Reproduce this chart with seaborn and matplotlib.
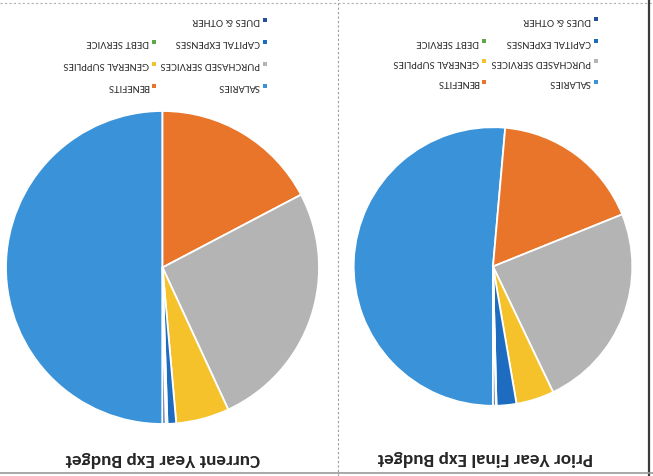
import matplotlib
matplotlib.use("Agg")
import matplotlib.pyplot as plt
from matplotlib.lines import Line2D
from matplotlib.patches import Rectangle
import seaborn as sns

# ---- data -------------------------------------------------------------
categories = ["SALARIES", "BENEFITS", "PURCHASED SERVICES", "GENERAL SUPPLIES",
              "CAPITAL EXPENSES", "DEBT SERVICE", "DUES & OTHER"]
current_year = [50.0, 17.3, 25.8, 5.5, 0.9, 0.2, 0.3]
prior_year = [51.4, 17.5, 24.0, 4.4, 2.3, 0.1, 0.3]
titles = ["Current Year Exp Budget", "Prior Year Final Exp Budget"]

sns.set_theme(style="white")
plt.rcParams["font.family"] = ["Carlito", "DejaVu Sans"]

palette = sns.color_palette(["#3A92D8", "#E8752A", "#B4B4B4", "#F5C22B",
                             "#1E6CC0", "#5FA845", "#23509A"])

W, H = 653, 477
fig = plt.figure(figsize=(W / 100, H / 100), dpi=100)
fig.patch.set_facecolor("white")


def fx(x):
    return x / W


def fy(y):
    return 1 - y / H


def pie_panel(values, cx, cy, r):
    ax = fig.add_axes([fx(cx - r), fy(cy + r), 2 * r / W, 2 * r / H])
    # the sheet is printed upside down: first slice starts at 6 o'clock
    ax.pie(values, colors=palette, startangle=-90, counterclock=False,
           radius=1.0,
           wedgeprops=dict(edgecolor="white", linewidth=1.3))
    ax.set_xlim(-1.0, 1.0)
    ax.set_ylim(-1.0, 1.0)
    ax.set_aspect("equal")
    ax.axis("off")
    return ax


pie_panel(current_year, 162.5, 268.5, 156.5)
pie_panel(prior_year, 493.0, 267.5, 139.3)

# titles (upside down)
title_pos = [(162.5, 459), (485.0, 458)]
for t, (x, y) in zip(titles, title_pos):
    fig.text(fx(x), fy(y), t, rotation=180, ha="center", va="center",
             fontsize=13.8, fontweight="bold", color="#262626")

# legends (upside down, two columns)
legend_slots = [[(265, 87), (154, 87), (265, 65), (154, 65), (265, 43), (154, 43), (265, 21)],
                [(596, 83), (484, 83), (596, 62), (484, 62), (596, 42), (484, 42), (596, 20)]]
for slots in legend_slots:
    for name, color, (mx, my) in zip(categories, palette, slots):
        s = 4.5
        fig.add_artist(Rectangle((fx(mx - s / 2), fy(my + s / 2)), s / W, s / H,
                                 transform=fig.transFigure, facecolor=color,
                                 edgecolor="none"))
        fig.text(fx(mx - 5), fy(my), name, rotation=180, rotation_mode="anchor",
                 ha="left", va="center", fontsize=7.9, color="#2e2e2e")

# page frame lines
fig.add_artist(Line2D([fx(338), fx(338)], [0, 1], transform=fig.transFigure,
                      color="#9a9a9a", lw=0.8, ls=(0, (2, 2))))
fig.add_artist(Line2D([0, 1], [fy(4), fy(4)], transform=fig.transFigure,
                      color="#b0b0b0", lw=0.8, ls=(0, (2, 2))))
fig.add_artist(Line2D([fx(649), fx(649)], [0, 1], transform=fig.transFigure,
                      color="#3a3a3a", lw=1.6))
fig.add_artist(Line2D([0, 1], [fy(474), fy(474)], transform=fig.transFigure,
                      color="#9a9a9a", lw=1.2))

fig.savefig("out.png", dpi=100, facecolor="white")
